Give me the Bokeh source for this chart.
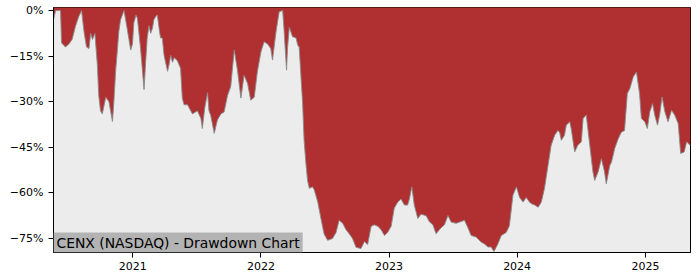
import pandas as pd
from bokeh.plotting import figure
from bokeh.models import Range1d, FixedTicker, CustomJSTickFormatter, Label, ColumnDataSource
from bokeh.embed import file_html
from bokeh.resources import INLINE

dates = [
    "2020-05-20", "2020-05-26", "2020-06-09", "2020-06-12", "2020-06-15", "2020-06-23", "2020-07-03",
    "2020-07-12", "2020-07-22", "2020-07-31", "2020-08-08", "2020-08-15", "2020-08-22", "2020-08-29",
    "2020-09-03", "2020-09-08", "2020-09-15", "2020-09-22", "2020-09-26", "2020-10-01", "2020-10-06",
    "2020-10-16", "2020-10-25", "2020-11-04", "2020-11-08", "2020-11-13", "2020-11-18", "2020-11-22",
    "2020-11-27", "2020-12-07", "2020-12-16", "2020-12-26", "2020-12-31", "2021-01-04", "2021-01-10",
    "2021-01-14", "2021-01-19", "2021-01-23", "2021-02-02", "2021-02-06", "2021-02-11", "2021-02-16",
    "2021-02-21", "2021-02-26", "2021-03-02", "2021-03-07", "2021-03-12", "2021-03-17", "2021-03-21",
    "2021-03-26", "2021-03-31", "2021-04-10", "2021-04-14", "2021-04-19", "2021-04-24", "2021-04-29",
    "2021-05-08", "2021-05-17", "2021-05-22", "2021-05-27", "2021-06-06", "2021-06-15", "2021-06-20",
    "2021-07-04", "2021-07-14", "2021-07-18", "2021-07-25", "2021-08-02", "2021-08-06", "2021-08-11",
    "2021-08-21", "2021-08-30", "2021-09-09", "2021-09-18", "2021-09-28", "2021-10-07", "2021-10-17",
    "2021-10-26", "2021-11-05", "2021-11-14", "2021-11-24", "2021-12-03", "2021-12-13", "2021-12-22",
    "2022-01-01", "2022-01-10", "2022-01-20", "2022-01-29", "2022-02-03", "2022-02-13", "2022-02-22",
    "2022-03-04", "2022-03-08", "2022-03-15", "2022-03-18", "2022-03-23", "2022-04-01", "2022-04-11",
    "2022-04-16", "2022-04-20", "2022-04-30", "2022-05-04", "2022-05-09", "2022-05-14", "2022-05-19",
    "2022-05-28", "2022-06-02", "2022-06-12", "2022-06-21", "2022-06-30", "2022-07-10", "2022-07-24",
    "2022-08-03", "2022-08-12", "2022-08-22", "2022-08-31", "2022-09-10", "2022-09-19", "2022-09-29",
    "2022-10-13", "2022-10-23", "2022-11-01", "2022-11-11", "2022-11-20", "2022-11-30", "2022-12-09",
    "2022-12-19", "2022-12-28", "2023-01-07", "2023-01-16", "2023-01-26", "2023-02-04", "2023-02-14",
    "2023-02-23", "2023-02-28", "2023-03-07", "2023-03-14", "2023-03-24", "2023-04-02", "2023-04-17",
    "2023-04-26", "2023-05-06", "2023-05-15", "2023-05-29", "2023-06-08", "2023-06-18", "2023-06-27",
    "2023-07-11", "2023-07-21", "2023-08-04", "2023-08-14", "2023-08-23", "2023-09-06", "2023-09-21",
    "2023-09-30", "2023-10-10", "2023-10-19", "2023-10-27", "2023-11-07", "2023-11-17", "2023-12-01",
    "2023-12-10", "2023-12-20", "2023-12-30", "2024-01-08", "2024-01-18", "2024-01-27", "2024-02-05",
    "2024-02-10", "2024-02-20", "2024-03-01", "2024-03-10", "2024-03-19", "2024-03-29", "2024-04-07",
    "2024-04-17", "2024-04-26", "2024-05-01", "2024-05-06", "2024-05-15", "2024-05-20", "2024-05-30",
    "2024-06-03", "2024-06-13", "2024-06-22", "2024-07-02", "2024-07-07", "2024-07-16", "2024-07-26",
    "2024-08-04", "2024-08-09", "2024-08-19", "2024-08-28", "2024-09-06", "2024-09-11", "2024-09-21",
    "2024-09-26", "2024-10-05", "2024-10-15", "2024-10-24", "2024-11-02", "2024-11-10", "2024-11-17",
    "2024-11-27", "2024-12-06", "2024-12-15", "2024-12-20", "2024-12-30", "2025-01-06", "2025-01-13",
    "2025-01-21", "2025-01-27", "2025-02-04", "2025-02-10", "2025-02-17", "2025-02-25", "2025-03-06",
    "2025-03-16", "2025-03-25", "2025-04-04", "2025-04-11", "2025-04-21", "2025-04-28", "2025-05-09",
]

drawdown = [
    -3.0, 0.0, 0.0, -10.7, -11.0, -12.0, -11.0,
    -9.5, -5.0, -2.0, 0.0, -7.0, -12.0, -12.5,
    -7.5, -9.5, -7.5, -18.0, -28.0, -33.0, -34.0,
    -28.5, -30.0, -36.5, -30.0, -20.0, -13.0, -7.0,
    -3.0, 0.0, -6.0, -13.0, -11.0, -4.0, -1.5,
    -2.5, -8.0, -12.4, -26.0, -18.0, -9.0, -5.0,
    -7.5, -5.8, -3.0, -2.0, -1.5, -6.0, -9.0,
    -9.0, -14.7, -20.0, -18.0, -14.7, -17.0, -15.5,
    -16.5, -19.0, -28.8, -31.0, -31.0, -33.0, -34.0,
    -33.0, -35.5, -38.8, -32.0, -27.0, -33.0, -34.5,
    -40.4, -36.0, -34.0, -33.4, -27.9, -25.0, -13.0,
    -19.5, -28.8, -21.3, -24.0, -29.5, -28.5, -20.0,
    -13.6, -10.3, -11.0, -12.5, -16.3, -7.0, -0.4,
    0.0, -6.5, -19.6, -12.0, -5.5, -8.6, -9.0,
    -11.4, -12.0, -31.0, -42.7, -50.0, -56.0, -58.5,
    -58.0, -59.0, -63.0, -68.4, -73.5, -75.6, -75.0,
    -73.0, -69.0, -70.0, -72.0, -73.5, -75.0, -77.9,
    -78.3, -76.0, -77.0, -71.0, -70.5, -71.0, -72.0,
    -74.0, -73.0, -71.0, -65.0, -63.0, -62.0, -64.0,
    -64.0, -62.0, -58.0, -64.0, -68.4, -67.0, -67.5,
    -69.5, -70.5, -73.4, -71.5, -70.5, -67.4, -69.6,
    -70.0, -69.6, -69.0, -71.5, -74.0, -74.5, -76.2,
    -76.8, -77.8, -77.8, -79.3, -76.8, -74.0, -73.0,
    -70.8, -60.8, -58.0, -61.5, -63.0, -61.5, -63.0,
    -63.5, -64.0, -64.7, -63.0, -58.5, -51.0, -44.3,
    -41.0, -39.5, -40.0, -42.7, -41.0, -37.7, -36.6,
    -38.8, -46.5, -44.3, -43.2, -35.5, -34.4, -44.3,
    -53.0, -55.9, -53.0, -48.7, -53.0, -57.0, -51.0,
    -49.8, -45.4, -42.2, -40.0, -39.5, -27.3, -25.7,
    -21.8, -20.2, -27.5, -35.5, -36.6, -38.8, -33.3,
    -30.6, -34.4, -37.7, -34.4, -28.4, -33.3, -36.6,
    -32.8, -34.4, -37.2, -47.0, -46.5, -43.2, -44.5,
]

year_labels = ["2021", "2022", "2023", "2024", "2025"]
y_ticks = [0, -15, -30, -45, -60, -75]
title_text = "CENX (NASDAQ) - Drawdown Chart"

x = pd.to_datetime(dates)
src = ColumnDataSource(dict(date=x, dd=drawdown))

x_start = pd.Timestamp("2020-05-20")
x_end = pd.Timestamp("2025-05-09")
y_lo, y_hi = -79.6, 1.0

p = figure(
    width=700, height=280, x_axis_type="datetime",
    output_backend="svg", toolbar_location=None,
    x_range=Range1d(x_start, x_end), y_range=Range1d(y_lo, y_hi),
    min_border_left=53, min_border_right=10, min_border_top=7, min_border_bottom=28,
)
p.background_fill_color = "#ececec"
p.border_fill_color = "white"
p.xgrid.visible = False
p.ygrid.visible = False
p.outline_line_color = "black"
p.outline_line_width = 1
p.outline_line_alpha = 1

p.varea(x="date", y1=y_hi + 1, y2="dd", source=src, fill_color="#b03031")
p.line(x="date", y="dd", source=src, line_color="#8a8a8a", line_width=1, line_alpha=0.9)

p.xaxis.ticker = FixedTicker(ticks=[pd.Timestamp(y + "-01-01").value / 1e6 for y in year_labels])
p.xaxis.formatter = CustomJSTickFormatter(code="return String(new Date(tick).getUTCFullYear());")
p.yaxis.ticker = FixedTicker(ticks=y_ticks)
p.yaxis.formatter = CustomJSTickFormatter(
    code="return (tick < 0 ? '\\u2212' + Math.abs(tick).toFixed(0) : tick.toFixed(0)) + '%';")

for ax in (p.xaxis, p.yaxis):
    ax.axis_line_color = "black"
    ax.major_tick_line_color = "black"
    ax.major_tick_out = 5
    ax.major_tick_in = 0
    ax.minor_tick_out = 0
    ax.minor_tick_in = 0
    ax.major_label_text_font = "DejaVu Sans"
    ax.major_label_text_font_size = "11px"
    ax.major_label_text_color = "black"
p.xaxis.major_label_standoff = 4
p.yaxis.major_label_standoff = 5

lbl = Label(
    x=x_start.value / 1e6, y=y_lo, text=title_text,
    text_font="DejaVu Sans", text_font_size="13.9px", text_color="black",
    text_align="left", text_baseline="bottom",
    background_fill_color="#b3b3b3", background_fill_alpha=1,
    padding=dict(left=3, right=3, top=2, bottom=2),
)
p.add_layout(lbl)

open("out.html", "w").write(file_html(p, INLINE))
